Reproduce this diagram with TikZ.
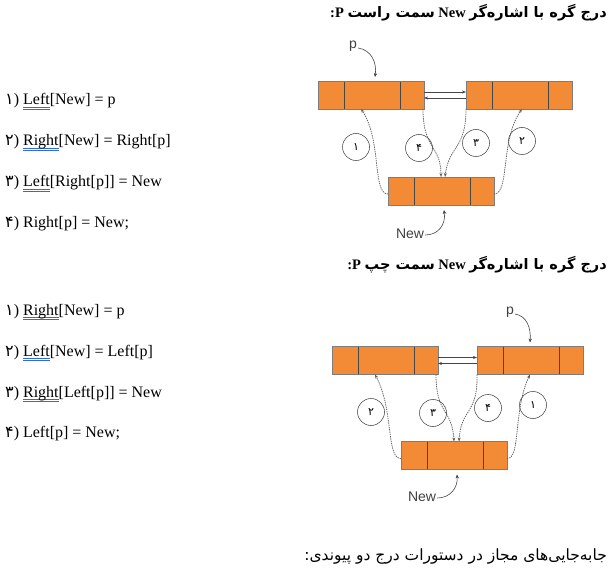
\documentclass[tikz,border=0pt]{standalone}
\usepackage{fontspec}
\setmainfont{Liberation Serif}
\newfontfamily\arabicfont[Script=Arabic]{DejaVu Sans}
\newfontfamily\helv{Liberation Sans}
\TeXXeTstate=1
\usetikzlibrary{arrows.meta,calc}
\definecolor{cellorange}{RGB}{243,139,54}
\definecolor{cellborder}{RGB}{125,125,125}
\definecolor{divcol}{RGB}{70,70,70}
\definecolor{ulblue}{RGB}{50,105,225}
\definecolor{linkgray}{RGB}{95,95,95}
\newcommand\dul[1]{\leavevmode\setbox0\hbox{#1}\rlap{\color{ulblue}\rule[-2.6pt]{\wd0}{0.8pt}}\rlap{\color{ulblue}\rule[-5pt]{\wd0}{0.8pt}}\box0}
\newcommand\fa[1]{{\arabicfont #1}}
\begin{document}
\begin{tikzpicture}[x=1pt,y=-1pt,
 cell/.style={draw=cellborder, fill=cellorange, line width=0.6pt, minimum height=28pt, inner sep=0pt, outer sep=0pt, anchor=west},
 cA/.style={cell, minimum width=26pt},
 cB/.style={cell, minimum width=56pt},
 cC/.style={cell, minimum width=24pt},
 divider/.style={draw=divcol, line width=0.8pt},
 link/.style={draw=divcol, line width=0.5pt, -{Stealth[length=4pt,width=3pt]}},
 dotlink/.style={draw=linkgray, line width=0.75pt, dash pattern=on 1.4pt off 0.9pt, -{Stealth[length=4pt,width=3pt]}},
 curvearrow/.style={draw=divcol, line width=0.6pt, -{Stealth[length=4pt,width=3.5pt]}},
 stepnum/.style={circle, draw=divcol, line width=0.55pt, minimum size=27pt, inner sep=0pt, font=\arabicfont\fontsize{11}{11}\selectfont},
 ptr/.style={font=\helv\fontsize{14}{14}\selectfont, text=black!75, inner sep=1pt},
 listtxt/.style={anchor=base west, inner sep=0pt, font=\fontsize{16}{19}\selectfont},
 title/.style={anchor=east, inner sep=0pt},
]
\useasboundingbox (0,0) rectangle (610,577);

% ---------- titles ----------
\node[title] (t1) at (607,13) {\fontsize{14.5}{16}\selectfont\bfseries :P \fa{\beginR سمت راست\endR} New \fa{\beginR درج گره با اشاره‌گر\endR}};
\node[title] (t2) at (607,265) {\fontsize{14.5}{16}\selectfont\bfseries :P \fa{\beginR سمت چپ\endR} New \fa{\beginR درج گره با اشاره‌گر\endR}};
\node[title] (t3) at (607,557) {\fontsize{15.5}{17}\selectfont\fa{\beginR جابه‌جایی‌های مجاز در دستورات درج دو پیوندی:\endR}};

% ---------- left lists ----------
\node[listtxt] (a1) at (5,105) {\fa{۱}) \dul{Left}[New] = p};
\node[listtxt] (a2) at (5,146) {\fa{۲}) \dul{Right}[New] = Right[p]};
\node[listtxt] (a3) at (5,187) {\fa{۳}) \dul{Left}[Right[p]] = New};
\node[listtxt] (a4) at (5,228) {\fa{۴}) Right[p] = New;};

\node[listtxt] (b1) at (5,315) {\fa{۱}) \dul{Right}[New] = p};
\node[listtxt] (b2) at (5,356) {\fa{۲}) \dul{Left}[New] = Left[p]};
\node[listtxt] (b3) at (5,397) {\fa{۳}) \dul{Right}[Left[p]] = New};
\node[listtxt] (b4) at (5,437) {\fa{۴}) Left[p] = New;};

% ---------- top diagram ----------
\node[cA] (L1) at (318,95) {};
\node[cB] (L2) at (L1.east) {};
\node[cC] (L3) at (L2.east) {};
\node[cA] (R1) at (466,95) {};
\node[cB] (R2) at (R1.east) {};
\node[cC] (R3) at (R2.east) {};
\node[cA] (N1) at (388,191) {};
\node[cB] (N2) at (N1.east) {};
\node[cC] (N3) at (N2.east) {};
\foreach \c in {L1,L2,R1,R2,N1,N2} \draw[divider] (\c.north east) -- (\c.south east);
\draw[cellborder, line width=0.6pt] (L1.north west) rectangle (L3.south east);
\draw[cellborder, line width=0.6pt] (R1.north west) rectangle (R3.south east);
\draw[cellborder, line width=0.6pt] (N1.north west) rectangle (N3.south east);

\draw[link] ([yshift=3pt]L3.east) -- ([yshift=3pt]R1.west);
\draw[link] ([yshift=-3pt]R1.west) -- ([yshift=-3pt]L3.east);

\draw[dotlink] ([yshift=-3pt]N1.west) .. controls (372,194) and (382,140) .. ($(L2.south west)+(17,0)$);
\draw[dotlink] ([yshift=-3pt]N3.east) .. controls (510,194) and (500,140) .. ($(R2.south west)+(30,0)$);
\draw[dotlink] ($(L3.south east)+(-1,0)$) .. controls (423,150) and (441,145) .. ($(N2.north west)+(27,0)$);
\draw[dotlink] (R1.south west) .. controls (466,150) and (449,145) .. ($(N2.north west)+(31,0)$);

\node[stepnum] (c1) at (356,147) {۱};
\node[stepnum] (c4) at (419,148) {۴};
\node[stepnum] (c3) at (476,143) {۳};
\node[stepnum] (c2) at (522,141) {۲};

\node[ptr] (p1) at (353,46) {p};
\draw[curvearrow] ([yshift=-2pt]p1.east) .. controls (371,50) and (377,62) .. ($(L2.north west)+(31,-4)$);
\node[ptr] (n1) at (410,234) {New};
\draw[curvearrow] ([yshift=-1pt]n1.east) .. controls (438,235) and (446,225) .. ($(N2.south west)+(30,5)$);

% ---------- bottom diagram ----------
\node[cA] (BL1) at (332,360.5) {};
\node[cB] (BL2) at (BL1.east) {};
\node[cC] (BL3) at (BL2.east) {};
\node[cA] (BR1) at (477,360.5) {};
\node[cB] (BR2) at (BR1.east) {};
\node[cC] (BR3) at (BR2.east) {};
\node[cA] (BN1) at (401,455.5) {};
\node[cB] (BN2) at (BN1.east) {};
\node[cC] (BN3) at (BN2.east) {};
\foreach \c in {BL1,BL2,BR1,BR2,BN1,BN2} \draw[divider] (\c.north east) -- (\c.south east);
\draw[cellborder, line width=0.6pt] (BL1.north west) rectangle (BL3.south east);
\draw[cellborder, line width=0.6pt] (BR1.north west) rectangle (BR3.south east);
\draw[cellborder, line width=0.6pt] (BN1.north west) rectangle (BN3.south east);

\draw[link] ([yshift=3pt]BL3.east) -- ([yshift=3pt]BR1.west);
\draw[link] ([yshift=-3pt]BR1.west) -- ([yshift=-3pt]BL3.east);

\draw[dotlink] ([yshift=-3pt]BN1.west) .. controls (386,459) and (394,410) .. ($(BL2.south west)+(17,0)$);
\draw[dotlink] ([yshift=-3pt]BN3.east) .. controls (521,459) and (513,410) .. ($(BR2.south west)+(27,0)$);
\draw[dotlink] ($(BL3.south east)+(-2,0)$) .. controls (436,415) and (452,408) .. ($(BN2.north west)+(27,0)$);
\draw[dotlink] (BR1.south west) .. controls (478,415) and (461,408) .. ($(BN2.north west)+(32,0)$);

\node[stepnum] (d2) at (371,412) {۲};
\node[stepnum] (d3) at (433,413) {۳};
\node[stepnum] (d4) at (488,408) {۴};
\node[stepnum] (d1) at (533,405) {۱};

\node[ptr] (p2) at (510,312) {p};
\draw[curvearrow] ([yshift=-2pt]p2.east) .. controls (527,316) and (531,328) .. ($(BR2.north west)+(27,-4)$);
\node[ptr] (n2) at (422,497) {New};
\draw[curvearrow] ([yshift=-1pt]n2.east) .. controls (450,498) and (458,488) .. ($(BN2.south west)+(30,5)$);
\end{tikzpicture}
\end{document}
